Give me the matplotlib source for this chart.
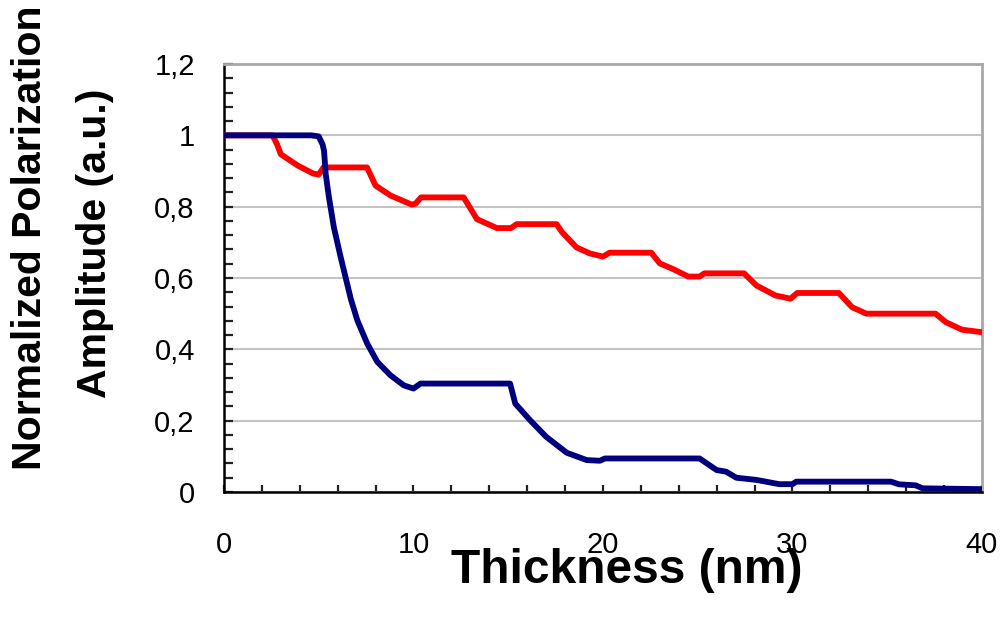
import matplotlib
matplotlib.use('Agg')
import matplotlib.pyplot as plt
from matplotlib.ticker import FuncFormatter, MultipleLocator

plt.rcParams['font.family'] = ['Liberation Sans', 'DejaVu Sans']
plt.rcParams['xtick.labelsize'] = 21
plt.rcParams['ytick.labelsize'] = 21

# thickness (nm) and normalized amplitude for the two films
red_x = [0, 2.56, 2.8, 3.0, 3.9, 4.7, 5.0, 5.25, 7.55, 8.0, 8.8, 9.9, 10.1, 10.4,
         12.65, 13.35, 14.4, 15.15, 15.45, 17.55, 17.85, 18.6, 19.3, 20.0, 20.35,
         22.55, 23.0, 23.7, 24.5, 25.1, 25.35, 27.45, 28.1, 29.1, 29.9, 30.25,
         32.45, 33.15, 33.9, 37.55, 38.1, 38.95, 40.0]
red_y = [1.0, 1.0, 0.975, 0.947, 0.915, 0.893, 0.89, 0.91, 0.91, 0.859, 0.831, 0.806, 0.808, 0.826,
         0.826, 0.765, 0.740, 0.740, 0.751, 0.751, 0.728, 0.686, 0.669, 0.660, 0.671,
         0.671, 0.641, 0.625, 0.604, 0.604, 0.613, 0.613, 0.579, 0.551, 0.542, 0.558,
         0.558, 0.518, 0.500, 0.500, 0.476, 0.455, 0.448]

blue_x = [0, 4.6, 5.0, 5.2, 5.28, 5.37, 5.54, 5.8, 6.16, 6.7, 7.04, 7.56, 8.09, 8.79,
          9.49, 10.0, 10.37, 15.1, 15.37, 16.16, 17.0, 18.09, 19.14, 19.84, 20.1,
          25.1, 26.0, 26.5, 27.04, 28.09, 29.3, 30.0, 30.2, 35.2, 35.63, 36.5, 36.86, 40.0]
blue_y = [1.0, 1.0, 0.997, 0.975, 0.957, 0.891, 0.826, 0.742, 0.658, 0.54, 0.481, 0.416, 0.365, 0.327,
          0.299, 0.290, 0.304, 0.304, 0.248, 0.201, 0.155, 0.110, 0.0895, 0.0876, 0.094,
          0.094, 0.0615, 0.057, 0.040, 0.034, 0.022, 0.022, 0.029, 0.029, 0.0215, 0.0187, 0.0103, 0.008]

fig = plt.figure(figsize=(10.03, 6.25), dpi=100)
ax = fig.add_axes([0.2233, 0.2128, 0.7557, 0.6848])

ax.plot(red_x, red_y, color='#ff0000', lw=4.2, solid_joinstyle='round', zorder=3)
ax.plot(blue_x, blue_y, color='#00007f', lw=4.2, solid_joinstyle='round', zorder=4)

ax.set_xlim(0, 40)
ax.set_ylim(0, 1.2)

ax.xaxis.set_major_locator(MultipleLocator(10))
ax.xaxis.set_minor_locator(MultipleLocator(2))
ax.yaxis.set_major_locator(MultipleLocator(0.2))
ax.yaxis.set_minor_locator(MultipleLocator(0.04))

def comma_fmt(v, pos):
    return ('%g' % round(v, 2)).replace('.', ',')

ax.yaxis.set_major_formatter(FuncFormatter(comma_fmt))
ax.xaxis.set_major_formatter(FuncFormatter(comma_fmt))

ax.grid(axis='y', which='major', color='#c4c4c4', lw=1.5)
ax.set_axisbelow(True)

for side in ['left', 'bottom']:
    ax.spines[side].set_color('black')
    ax.spines[side].set_linewidth(1.8)
for side in ['top', 'right']:
    ax.spines[side].set_color('#a8a8a8')
    ax.spines[side].set_linewidth(2)

ax.tick_params(axis='both', which='both', direction='in', width=1.6, color='#222222',
               top=False, right=False)
ax.tick_params(axis='y', which='both', length=6.5, pad=21)
ax.tick_params(axis='x', which='both', length=5, pad=28)

ax.set_xlabel('Thickness (nm)', fontsize=34.5, fontweight='bold')
ax.xaxis.set_label_coords(0.532, -0.13)

fig.text(0.030, 0.619, 'Normalized Polarization', rotation=90, ha='center', va='center',
         fontsize=29.5, fontweight='bold')
fig.text(0.095, 0.611, 'Amplitude (a.u.)', rotation=90, ha='center', va='center',
         fontsize=29.5, fontweight='bold')

plt.savefig('out.png', dpi=100)
